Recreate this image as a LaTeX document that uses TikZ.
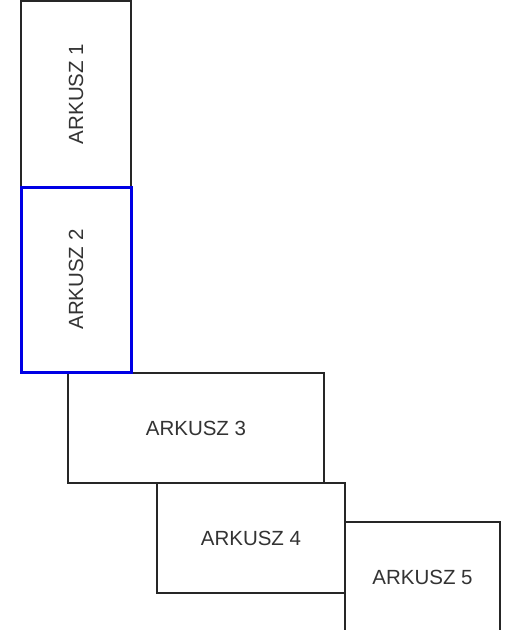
\documentclass[tikz,border=0pt]{standalone}
\usepackage{fontspec}
\setmainfont{Liberation Sans}
\usepackage{tikz}
\usetikzlibrary{positioning}
\colorlet{sheetblue}{blue!90!black}

\tikzset{
  sheet/.style={draw=black!85,line width=1.2pt,fill=white,inner sep=0pt,outer sep=0pt,
    text=black!80,font=\fontsize{20.5}{24}\selectfont},
  active/.style={sheet,draw=sheetblue,line width=3pt}
}

\begin{document}
\begin{tikzpicture}[x=1pt,y=-1pt]
\useasboundingbox (0,0) rectangle (523,630);
\clip (0,0) rectangle (523,630);
% the sheets, top to bottom
\node[sheet,minimum width=110pt,minimum height=186pt] (a1) at (76,94) {\rotatebox{90}{ARKUSZ 1}};
\node[sheet,minimum width=256pt,minimum height=110pt] (a3) at (196,428) {ARKUSZ 3};
\node[sheet,minimum width=188pt,minimum height=110pt] (a4) at (251,538) {ARKUSZ 4};
\node[sheet,minimum width=155pt,minimum height=110pt] (a5) at (422.5,577) {ARKUSZ 5};
% the selected one goes last
\node[active,minimum width=110pt,minimum height=185pt] (a2) at (76,279.5) {\rotatebox{90}{ARKUSZ 2}};
\end{tikzpicture}
\end{document}
